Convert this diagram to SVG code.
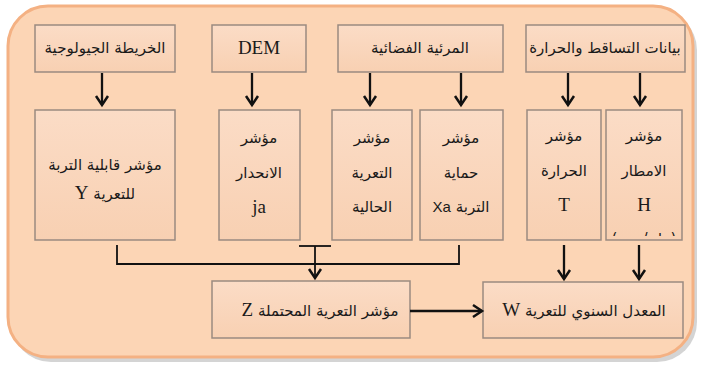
<svg xmlns="http://www.w3.org/2000/svg" width="702" height="369" viewBox="0 0 702 369">
<defs>
<style>
.box{stroke:#9a8a80;stroke-width:1.5;fill:url(#bg)}
.ar{font-family:"DejaVu Sans","Noto Sans",sans-serif;font-size:15px;fill:#1a1a1a;text-anchor:middle;direction:rtl}
.lt{font-family:"Liberation Serif",serif;font-size:19px;fill:#1a1a1a;text-anchor:middle}
.cn{stroke:#111;stroke-width:2.3;fill:none}
.cn2{stroke:#111;stroke-width:1.8;fill:none}
</style>
<linearGradient id="bg" x1="0" y1="0" x2="0" y2="1">
<stop offset="0" stop-color="#fbdcc6"/>
<stop offset="1" stop-color="#f8d0b2"/>
</linearGradient>
<marker id="ah" markerUnits="userSpaceOnUse" markerWidth="16" markerHeight="16" refX="12" refY="8" orient="auto">
<path d="M3,2 L12,8 L3,14" fill="none" stroke="#111" stroke-width="2.5"/>
</marker>
<clipPath id="clipF"><rect x="606" y="227" width="76" height="9"/></clipPath>
</defs>
<rect width="702" height="369" fill="#ffffff"/>
<rect x="11" y="10" width="686" height="352" rx="40" fill="#b8b8b8" opacity="0.6"/>
<rect x="8" y="6" width="685" height="351" rx="40" fill="#fcd5b5" stroke="#f4b183" stroke-width="3"/>

<g id="n-geo"><rect class="box" x="35" y="25" width="140" height="47"/><text class="ar" x="105" y="53">الخريطة الجيولوجية</text></g>
<g id="n-dem"><rect class="box" x="212" y="25" width="94" height="47"/><text class="lt" x="259" y="54">DEM</text></g>
<g id="n-sat"><rect class="box" x="338" y="25" width="165" height="47"/><text class="ar" x="420" y="53">المرئية الفضائية</text></g>
<g id="n-rain"><rect class="box" x="526" y="25" width="159" height="47"/><text class="ar" x="605" y="53">بيانات التساقط والحرارة</text></g>

<g id="n-y"><rect class="box" x="35" y="110" width="140" height="130"/><text class="ar" x="105" y="170">مؤشر قابلية التربة</text><text class="ar" x="105" y="199">للتعرية <tspan class="lt">Y</tspan></text></g>
<g id="n-ja"><rect class="box" x="219" y="110" width="81" height="130"/><text class="ar" x="259" y="143">مؤشر</text><text class="ar" x="259" y="178">الانحدار</text><text class="lt" x="259" y="213">ja</text></g>
<g id="n-cur"><rect class="box" x="332" y="110" width="80" height="130"/><text class="ar" x="372" y="143">مؤشر</text><text class="ar" x="372" y="178">التعرية</text><text class="ar" x="372" y="212">الحالية</text></g>
<g id="n-xa"><rect class="box" x="420" y="110" width="83" height="130"/><text class="ar" x="461" y="143">مؤشر</text><text class="ar" x="461" y="178">حماية</text><text class="ar" x="461" y="212">التربة <tspan style="font-family:'Liberation Sans',sans-serif;font-size:15px">Xa</tspan></text></g>
<g id="n-t"><rect class="box" x="527" y="110" width="74" height="130"/><text class="ar" x="564" y="141">مؤشر</text><text class="ar" x="564" y="176">الحرارة</text><text class="lt" x="564" y="211">T</text></g>
<g id="n-h"><rect class="box" x="606" y="110" width="76" height="130"/><text class="ar" x="644" y="141">مؤشر</text><text class="ar" x="644" y="176">الامطار</text><text class="lt" x="644" y="211">H</text><text class="ar" x="644" y="244" clip-path="url(#clipF)">(ملم/سنة)</text></g>

<g id="n-z"><rect class="box" x="212" y="281" width="198" height="57"/><text class="ar" x="320" y="316">مؤشر التعرية المحتملة <tspan class="lt">Z</tspan></text></g>
<g id="n-w"><rect class="box" x="483" y="282" width="200" height="56"/><text class="ar" x="584" y="316">المعدل السنوي للتعرية <tspan class="lt">W</tspan></text></g>

<g id="connectors">
<line class="cn" x1="102" y1="73" x2="102" y2="105" marker-end="url(#ah)"/>
<line class="cn" x1="252" y1="73" x2="252" y2="105" marker-end="url(#ah)"/>
<line class="cn" x1="370" y1="73" x2="370" y2="105" marker-end="url(#ah)"/>
<line class="cn" x1="461" y1="73" x2="461" y2="105" marker-end="url(#ah)"/>
<line class="cn" x1="568" y1="73" x2="568" y2="105" marker-end="url(#ah)"/>
<line class="cn" x1="640" y1="73" x2="640" y2="105" marker-end="url(#ah)"/>
<polyline class="cn2" points="117,245 117,264 459,264 459,245"/>
<line class="cn2" x1="299" y1="246" x2="331" y2="246"/>
<line class="cn2" x1="315" y1="246" x2="315" y2="278" marker-end="url(#ah)"/>
<line class="cn" x1="410" y1="311" x2="482" y2="311" marker-end="url(#ah)"/>
<line class="cn" x1="564" y1="245" x2="564" y2="279" marker-end="url(#ah)"/>
<line class="cn" x1="639" y1="245" x2="639" y2="279" marker-end="url(#ah)"/>
</g>
</svg>
